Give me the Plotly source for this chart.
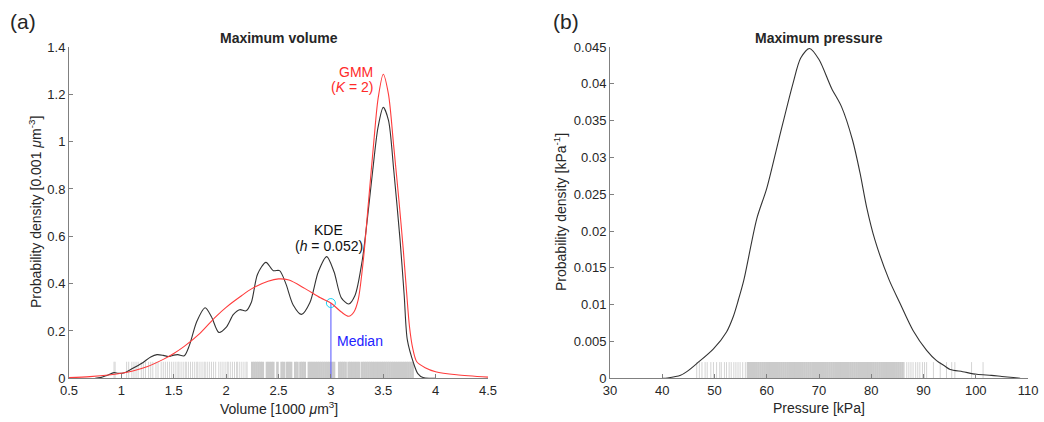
import plotly.graph_objects as go

# ---------------- Panel (a): maximum volume ----------------
kde_vol_x = [0.75, 0.8, 0.86, 0.93, 0.97, 1.02, 1.1, 1.2, 1.28, 1.34, 1.4, 1.45, 1.5, 1.54, 1.6,
             1.65, 1.72, 1.8, 1.86, 1.93, 2.0, 2.07, 2.13, 2.19, 2.24, 2.3, 2.38, 2.45, 2.51,
             2.57, 2.64, 2.72, 2.8, 2.88, 2.96, 3.03, 3.1, 3.17, 3.23, 3.3, 3.35, 3.4, 3.45,
             3.5, 3.55, 3.6, 3.66, 3.7, 3.73, 3.79, 3.83, 3.88, 3.95, 4.0]
kde_vol_y = [0.0, 0.003, 0.012, 0.024, 0.021, 0.022, 0.04, 0.065, 0.09, 0.10, 0.097, 0.092, 0.098,
             0.1, 0.095, 0.14, 0.24, 0.298, 0.26, 0.194, 0.215, 0.27, 0.29, 0.285, 0.32, 0.44,
             0.49, 0.455, 0.455, 0.4, 0.31, 0.27, 0.32, 0.45, 0.514, 0.45, 0.34, 0.314, 0.35,
             0.5, 0.68, 0.88, 1.06, 1.145, 1.09, 0.88, 0.587, 0.35, 0.162, 0.063, 0.02, 0.003,
             0.0, 0.0]

gmm_vol_x = [0.5, 0.7, 0.9, 1.0, 1.1, 1.25, 1.4, 1.5, 1.6, 1.75, 1.9, 2.0, 2.15, 2.25, 2.4, 2.5,
             2.6, 2.75, 2.9, 3.0, 3.1, 3.17, 3.22, 3.26, 3.31, 3.36, 3.41, 3.45, 3.5, 3.55,
             3.6, 3.65, 3.69, 3.72, 3.75, 3.78, 3.82, 3.9, 4.0, 4.2, 4.5]
gmm_vol_y = [0.003, 0.007, 0.015, 0.021, 0.03, 0.05, 0.08, 0.105, 0.135, 0.19, 0.26, 0.30, 0.35,
             0.38, 0.41, 0.42, 0.415, 0.38, 0.34, 0.318, 0.28, 0.262, 0.28, 0.33, 0.5, 0.75,
             1.0, 1.18, 1.285, 1.2, 0.98, 0.75, 0.55, 0.38, 0.22, 0.13, 0.07, 0.045, 0.028,
             0.015, 0.005]

median_vol = 3.0
median_vol_density = 0.318

rug_vol_sparse = [0.93, 0.94, 1.05, 1.07, 1.10, 1.12, 1.14, 1.16, 1.19, 1.21, 1.23, 1.26, 1.28,
                  1.30, 1.33, 1.35, 1.38, 1.40, 1.42, 1.44, 1.46, 1.48, 1.50, 1.52, 1.54, 1.55,
                  1.57, 1.59, 1.61, 1.62, 1.64, 1.66, 1.68, 1.70, 1.72, 1.73, 1.75, 1.77, 1.79,
                  1.80, 1.82, 1.84, 1.86, 1.88, 1.90, 1.93, 1.95, 1.97, 1.99, 2.01, 2.02, 2.04,
                  2.06, 2.08, 2.10, 2.11, 2.13, 2.15, 2.17, 2.19, 2.20]
rug_vol_dense = [2.25, 2.27, 2.29, 2.31, 2.33, 2.35, 2.39, 2.41, 2.43, 2.45, 2.49, 2.53, 2.55,
                 2.58, 2.60, 2.62, 2.66, 2.68, 2.71, 2.73, 2.75, 2.79, 2.81, 2.83, 2.85, 2.87,
                 2.89, 2.91, 2.93, 2.95, 2.97, 2.99, 3.01, 3.03, 3.08, 3.10, 3.12, 3.14, 3.17,
                 3.19, 3.21, 3.23, 3.25, 3.27, 3.30, 3.32, 3.34, 3.36, 3.38, 3.40, 3.42, 3.44,
                 3.46, 3.48, 3.50, 3.52, 3.54, 3.56, 3.58, 3.60, 3.62, 3.64, 3.66, 3.68, 3.70,
                 3.72, 3.74, 3.76, 3.78]
rug_vol_height = 0.07

# ---------------- Panel (b): maximum pressure ----------------
kde_pres_x = [40, 41, 43.5, 44.7, 46.6, 49.8, 52.3, 53.6, 54.55, 55.6, 58.1, 60, 62.3, 65, 66.5,
              68.2, 70, 72.4, 74.3, 76.4, 77.85, 79.1, 80.7, 83.4, 85.5, 88, 90.6, 92.5, 94,
              95.1, 97.5, 100.2, 103, 105, 107.2, 108.5]
kde_pres_y = [0.0, 0.00005, 0.0004, 0.0009, 0.002, 0.004, 0.0063, 0.0084, 0.0106, 0.0133, 0.0217,
              0.0258, 0.0324, 0.040, 0.0435, 0.0448, 0.0433, 0.0394, 0.0369, 0.0324, 0.0279,
              0.0233, 0.0188, 0.0134, 0.0102, 0.0065, 0.0038, 0.0024, 0.0017, 0.0012, 0.0009,
              0.00054, 0.0004, 0.00025, 0.0001, 0.0]

rug_pres_sparse = [46.6, 47.1, 47.6, 48.2, 48.6, 49.3, 49.8, 50.4, 51.0, 51.3, 51.9, 52.3, 52.8,
                   53.2, 53.7, 54.1, 54.5, 54.9, 55.4, 55.9, 86.3, 86.8, 87.2, 87.6, 88.0, 88.5,
                   88.9, 89.3, 89.8, 90.2, 90.6, 91.9, 93.2, 94.4, 95.4, 96.0, 99.2, 101.4]
rug_pres_dense = [56.4, 56.8, 57.2, 57.6, 58.0, 58.4, 58.8, 59.2, 59.6, 60.0, 60.4, 60.8, 61.2,
                  61.6, 62.0, 62.4, 62.8, 63.2, 63.6, 64.0, 64.4, 64.8, 65.2, 65.6, 66.0, 66.4,
                  66.8, 67.2, 67.6, 68.0, 68.4, 68.8, 69.2, 69.6, 70.0, 70.4, 70.8, 71.2, 71.6,
                  72.0, 72.4, 72.8, 73.2, 73.6, 74.0, 74.4, 74.8, 75.2, 75.6, 76.0, 76.4, 76.8,
                  77.2, 77.6, 78.0, 78.4, 78.8, 79.2, 79.6, 80.0, 80.4, 80.8, 81.2, 81.6, 82.0,
                  82.4, 82.8, 83.2, 83.6, 84.0, 84.4, 84.8, 85.2, 85.6, 86.0]
rug_pres_height = 0.0022

vol_ticks = [0.5, 1, 1.5, 2, 2.5, 3, 3.5, 4, 4.5]
vol_ticklabels = ["0.5", "1", "1.5", "2", "2.5", "3", "3.5", "4", "4.5"]
dens_vol_ticks = [0, 0.2, 0.4, 0.6, 0.8, 1, 1.2, 1.4]
dens_vol_ticklabels = ["0", "0.2", "0.4", "0.6", "0.8", "1", "1.2", "1.4"]
pres_ticks = [30, 40, 50, 60, 70, 80, 90, 100, 110]
pres_ticklabels = ["30", "40", "50", "60", "70", "80", "90", "100", "110"]
dens_pres_ticks = [0, 0.005, 0.01, 0.015, 0.02, 0.025, 0.03, 0.035, 0.04, 0.045]
dens_pres_ticklabels = ["0", "0.005", "0.01", "0.015", "0.02", "0.025", "0.03", "0.035", "0.04", "0.045"]


def rug_xy(values, height):
    xs, ys = [], []
    for v in values:
        xs += [v, v, None]
        ys += [0, height, None]
    return xs, ys


FONT = "Liberation Sans, Arial, Helvetica, sans-serif"
TXT = "#262626"
AX = "#808080"
RUG = "#cbcbcb"
RUG_LIGHT = "#d4d4d4"

fig = go.Figure()

# rug plots
x, y = rug_xy(rug_vol_sparse, rug_vol_height)
fig.add_trace(go.Scatter(x=x, y=y, mode="lines", line=dict(color=RUG_LIGHT, width=1),
                         xaxis="x", yaxis="y", hoverinfo="skip"))
x, y = rug_xy(rug_vol_dense, rug_vol_height)
fig.add_trace(go.Scatter(x=x, y=y, mode="lines", line=dict(color=RUG, width=2.6),
                         xaxis="x", yaxis="y", hoverinfo="skip"))
x, y = rug_xy(rug_pres_sparse, rug_pres_height)
fig.add_trace(go.Scatter(x=x, y=y, mode="lines", line=dict(color=RUG_LIGHT, width=1),
                         xaxis="x2", yaxis="y2", hoverinfo="skip"))
x, y = rug_xy(rug_pres_dense, rug_pres_height)
fig.add_trace(go.Scatter(x=x, y=y, mode="lines", line=dict(color=RUG, width=2.5),
                         xaxis="x2", yaxis="y2", hoverinfo="skip"))

# median
fig.add_trace(go.Scatter(x=[median_vol, median_vol], y=[0, median_vol_density], mode="lines",
                         line=dict(color="rgba(100,100,255,0.75)", width=1.5),
                         xaxis="x", yaxis="y"))
fig.add_trace(go.Scatter(x=[median_vol], y=[median_vol_density], mode="markers",
                         marker=dict(symbol="circle-open", size=9,
                                     line=dict(color="rgba(130,110,255,0.75)", width=1)),
                         xaxis="x", yaxis="y"))

# density curves
fig.add_trace(go.Scatter(x=kde_vol_x, y=kde_vol_y, mode="lines",
                         line=dict(color="#333333", width=1.1, shape="spline", smoothing=0.8),
                         xaxis="x", yaxis="y"))
fig.add_trace(go.Scatter(x=gmm_vol_x, y=gmm_vol_y, mode="lines",
                         line=dict(color="#ff3c3c", width=1.1, shape="spline", smoothing=0.8),
                         xaxis="x", yaxis="y"))
fig.add_trace(go.Scatter(x=kde_pres_x, y=kde_pres_y, mode="lines",
                         line=dict(color="#333333", width=1.1, shape="spline", smoothing=0.8),
                         xaxis="x2", yaxis="y2"))

axis_common = dict(showline=True, linecolor=AX, linewidth=1, ticks="inside", ticklen=4,
                   tickcolor=AX, showgrid=False, zeroline=False, mirror=False,
                   tickfont=dict(family=FONT, size=13, color=TXT), fixedrange=True)

fig.update_layout(
    width=1044, height=422,
    margin=dict(l=0, r=0, t=0, b=0, autoexpand=False),
    paper_bgcolor="white", plot_bgcolor="white",
    showlegend=False,
    font=dict(family=FONT, size=13, color=TXT),
    xaxis=dict(domain=[69 / 1044, 488 / 1044], range=[0.5, 4.5], tickvals=vol_ticks,
               ticktext=vol_ticklabels, anchor="y", **axis_common),
    yaxis=dict(domain=[1 - 378.3 / 422, 1 - 47 / 422], range=[0, 1.4], tickvals=dens_vol_ticks,
               ticktext=dens_vol_ticklabels, anchor="x", **axis_common),
    xaxis2=dict(domain=[610 / 1044, 1028 / 1044], range=[30, 110], tickvals=pres_ticks,
                ticktext=pres_ticklabels, anchor="y2", **axis_common),
    yaxis2=dict(domain=[1 - 378.3 / 422, 1 - 47 / 422], range=[0, 0.045],
                tickvals=dens_pres_ticks, ticktext=dens_pres_ticklabels, anchor="x2",
                **axis_common),
)


def pan(x, y, text, size=14, **kw):
    fig.add_annotation(x=x / 1044, y=1 - y / 422, xref="paper", yref="paper", text=text,
                       showarrow=False, xanchor="center", yanchor="middle",
                       font=dict(family=FONT, size=size, color=TXT), **kw)


pan(23, 22, "(a)", size=21)
pan(566, 22, "(b)", size=21)
pan(278.5, 38, "<b>Maximum volume</b>", size=14)
pan(819, 38, "<b>Maximum pressure</b>", size=14)
pan(278.5, 408, "Volume [1000 <i>μ</i>m<sup>3</sup>]", size=14)
pan(819, 408, "Pressure [kPa]", size=14)
pan(35, 212, "Probability density [0.001 <i>μ</i>m<sup>-3</sup>]", size=14, textangle=-90)
pan(560, 212, "Probability density [kPa<sup>-1</sup>]", size=14, textangle=-90)

RED = "#ff2a2a"
fig.add_annotation(x=3.42, y=1.296, xref="x", yref="y", text="GMM", showarrow=False,
                   xanchor="right", yanchor="middle", font=dict(family=FONT, size=14, color=RED))
fig.add_annotation(x=3.42, y=1.232, xref="x", yref="y", text="(<i>K</i> = 2)", showarrow=False,
                   xanchor="right", yanchor="middle", font=dict(family=FONT, size=14, color=RED))
fig.add_annotation(x=2.98, y=0.627, xref="x", yref="y", text="KDE", showarrow=False,
                   xanchor="center", yanchor="middle",
                   font=dict(family=FONT, size=14, color="#111111"))
fig.add_annotation(x=2.98, y=0.557, xref="x", yref="y", text="(<i>h</i> = 0.052)",
                   showarrow=False, xanchor="center", yanchor="middle",
                   font=dict(family=FONT, size=14, color="#111111"))
fig.add_annotation(x=3.04, y=0.158, xref="x", yref="y", text="Median", showarrow=False,
                   xanchor="left", yanchor="middle",
                   font=dict(family=FONT, size=14, color="#2222ff"))

fig.write_html("out.html")
